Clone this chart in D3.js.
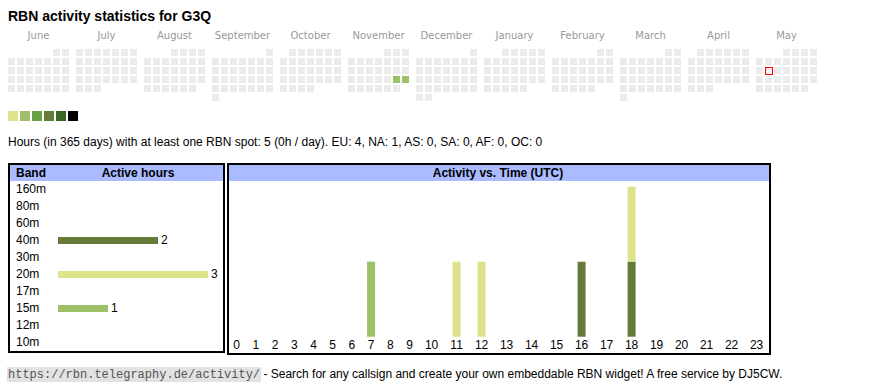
<!DOCTYPE html>
<html><head><meta charset="utf-8">
<script src="https://cdn.jsdelivr.net/npm/d3@7"></script>
<style>body{margin:0;background:#fff} svg{display:block}</style>
</head><body><svg id="c" width="870" height="390"></svg>
<script>
// ---------- data ----------
const titleText = "RBN activity statistics for G3Q";
const monthLabels = ["June","July","August","September","October","November","December","January","February","March","April","May"];
const calStart = "2024-06-01";
const calEnd = "2025-06-01";
const todayDate = "2025-05-13";
const activeDays = ["2024-11-23","2024-11-24"];
const activeDayLevels = [2,2];
const levelColors = ["#dce38b","#9dc068","#6b9f45","#667a3a","#3b6a28","#000000"];
const statsText = "Hours (in 365 days) with at least one RBN spot: 5 (0h / day). EU: 4, NA: 1, AS: 0, SA: 0, AF: 0, OC: 0";
const bands = ["160m","80m","60m","40m","30m","20m","17m","15m","12m","10m"];
const bandHours = [0,0,0,2,0,3,0,1,0,0];
const bandColorKeys = ["40m","20m","15m"];
const bandColorValues = ["#667a3a","#dce38b","#9dc068"];
const hourLabels = ["0","1","2","3","4","5","6","7","8","9","10","11","12","13","14","15","16","17","18","19","20","21","22","23"];
const hours40m = [0,0,0,0,0,0,0,0,0,0,0,0,0,0,0,0,1,0,1,0,0,0,0,0];
const hours20m = [0,0,0,0,0,0,0,0,0,0,0,1,1,0,0,0,0,0,1,0,0,0,0,0];
const hours15m = [0,0,0,0,0,0,0,1,0,0,0,0,0,0,0,0,0,0,0,0,0,0,0,0];
const footerUrl = "https://rbn.telegraphy.de/activity/";
const footerText = " - Search for any callsign and create your own embeddable RBN widget! A free service by DJ5CW.";

// ---------- drawing ----------
const svg = d3.select("#c");
const SANS = "'Liberation Sans', Arial, sans-serif";
const parse = d3.timeParse("%Y-%m-%d");

svg.append("text").attr("x", 8).attr("y", 21)
  .attr("font-family", SANS).attr("font-weight", "bold").attr("font-size", 14)
  .attr("fill", "#000").text(titleText);

// calendar
const start = parse(calStart), end = parse(calEnd), today = parse(todayDate);
const monthX = d3.scaleLinear().domain([0, 1]).range([8, 76]);
const colX = d3.scaleLinear().domain([0, 1]).range([0, 9]);
const rowY = d3.scaleLinear().domain([0, 1]).range([49, 58]);
const levelColor = d3.scaleOrdinal().domain(d3.range(1, levelColors.length + 1)).range(levelColors);
const activeMap = new Map(activeDays.map((d, i) => [d, activeDayLevels[i]]));
const fmt = d3.timeFormat("%Y-%m-%d");
const days = d3.timeDay.range(start, end);

svg.append("g").selectAll("text").data(monthLabels).join("text")
  .attr("x", (d, i) => monthX(i) + 30.5).attr("y", 39)
  .attr("text-anchor", "middle").attr("font-family", "'DejaVu Sans', Verdana, sans-serif")
  .attr("font-size", 10).attr("fill", "#999").text(d => d);

function cellX(d) {
  const m = d3.timeMonth.count(start, d);
  const dow = (d.getDay() + 6) % 7;
  return monthX(m) + colX(dow);
}
function cellY(d) {
  return rowY(d3.timeMonday.count(d3.timeMonth.floor(d), d));
}
svg.append("g").selectAll("rect").data(days).join("rect")
  .attr("x", cellX).attr("y", cellY).attr("width", 7).attr("height", 7)
  .attr("fill", d => activeMap.has(fmt(d)) ? levelColor(activeMap.get(fmt(d))) : "#ebebeb");
// today marker: red frame
svg.append("rect").attr("x", cellX(today)).attr("y", cellY(today))
  .attr("width", 8).attr("height", 8).attr("fill", "#ff0000");
svg.append("rect").attr("x", cellX(today) + 1).attr("y", cellY(today) + 1)
  .attr("width", 6).attr("height", 6).attr("fill", "#f4f4f4");

// legend
const legX = d3.scaleLinear().domain([0, 1]).range([8, 20]);
svg.append("g").selectAll("rect").data(levelColors).join("rect")
  .attr("x", (d, i) => legX(i)).attr("y", 111).attr("width", 10).attr("height", 10)
  .attr("fill", d => d);

svg.append("text").attr("x", 8).attr("y", 146)
  .attr("font-family", SANS).attr("font-size", 12).attr("fill", "#000").text(statsText);

// band table
const headerBlue = "#aabbff";
svg.append("rect").attr("x", 10).attr("y", 165).attr("width", 213).attr("height", 16).attr("fill", headerBlue);
svg.append("rect").attr("x", 9).attr("y", 164).attr("width", 215).attr("height", 188)
  .attr("fill", "none").attr("stroke", "#000").attr("stroke-width", 2);
svg.append("text").attr("x", 16).attr("y", 177).attr("font-family", SANS).attr("font-weight", "bold")
  .attr("font-size", 12).text("Band");
svg.append("text").attr("x", 138).attr("y", 177).attr("text-anchor", "middle").attr("font-family", SANS)
  .attr("font-weight", "bold").attr("font-size", 12).text("Active hours");

const bandY = d3.scalePoint().domain(bands).range([193, 346]);
const bandX = d3.scaleLinear().domain([0, 3]).range([58, 208]);
const bandColor = d3.scaleOrdinal().domain(bandColorKeys).range(bandColorValues);
const bandRows = bands.map((b, i) => ({ band: b, hours: bandHours[i] }));
const bg = svg.append("g");
bg.selectAll("text.band").data(bandRows).join("text").attr("class", "band")
  .attr("x", 16).attr("y", d => bandY(d.band)).attr("font-family", SANS).attr("font-size", 12)
  .text(d => d.band);
bg.selectAll("rect").data(bandRows.filter(d => d.hours > 0)).join("rect")
  .attr("x", bandX(0)).attr("y", d => bandY(d.band) - 7).attr("height", 7)
  .attr("width", d => bandX(d.hours) - bandX(0)).attr("fill", d => bandColor(d.band));
bg.selectAll("text.val").data(bandRows.filter(d => d.hours > 0)).join("text").attr("class", "val")
  .attr("x", d => bandX(d.hours) + 3).attr("y", d => bandY(d.band)).attr("font-family", SANS)
  .attr("font-size", 12).text(d => d.hours);

// activity vs time
svg.append("rect").attr("x", 229).attr("y", 165).attr("width", 540).attr("height", 16).attr("fill", headerBlue);
svg.append("rect").attr("x", 228).attr("y", 164).attr("width", 542).attr("height", 190)
  .attr("fill", "none").attr("stroke", "#000").attr("stroke-width", 2);
svg.append("text").attr("x", 498).attr("y", 177).attr("text-anchor", "middle").attr("font-family", SANS)
  .attr("font-weight", "bold").attr("font-size", 12).text("Activity vs. Time (UTC)");

// hour label positions emulate an auto-layout table row: cell width ~ label length
const digitW = 6.67, pad = 7.7, rowStart = 227.1, rowWidth = 542;
const raw = hourLabels.map(h => h.length * digitW + 2 * pad);
const k = rowWidth / d3.sum(raw);
const centers = [];
let acc = rowStart;
raw.forEach(w => { centers.push(acc + w * k / 2); acc += w * k; });
const hourX = d3.scaleOrdinal().domain(hourLabels).range(centers);

const stackData = hourLabels.map((h, i) => ({ hour: h, "40m": hours40m[i], "20m": hours20m[i], "15m": hours15m[i] }));
const series = d3.stack().keys(bandColorKeys)(stackData);
const yAct = d3.scaleLinear().domain([0, 2]).range([336.7, 186.7]);

const ag = svg.append("g");
ag.selectAll("g").data(series).join("g").attr("fill", s => bandColor(s.key))
  .selectAll("rect").data(s => s.filter(p => p[1] > p[0])).join("rect")
  .attr("x", p => hourX(p.data.hour) - 4).attr("width", 8)
  .attr("y", p => yAct(p[1])).attr("height", p => yAct(p[0]) - yAct(p[1]));

ag.selectAll("text").data(hourLabels).join("text")
  .attr("x", d => hourX(d)).attr("y", 349).attr("text-anchor", "middle")
  .attr("font-family", SANS).attr("font-size", 12).text(d => d);

// footer
const footG = svg.append("g");
const urlBg = footG.append("rect").attr("x", 7).attr("y", 367).attr("height", 15).attr("fill", "#e2e2e2");
const ft = footG.append("text").attr("x", 8).attr("y", 378).attr("font-size", 12).attr("font-family", SANS);
const urlSpan = ft.append("tspan").attr("font-family", "'Liberation Mono', 'Courier New', monospace")
  .attr("font-size", 12).attr("fill", "#555").text(footerUrl);
ft.append("tspan").attr("fill", "#000").text(footerText);
urlBg.attr("width", urlSpan.node().getComputedTextLength() + 2);
</script></body></html>
